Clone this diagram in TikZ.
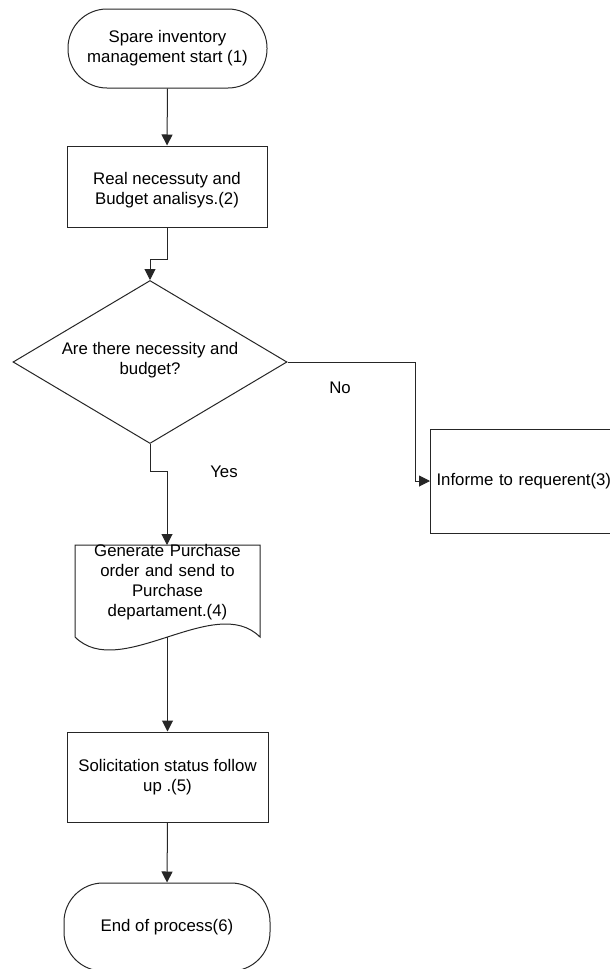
\documentclass[tikz,border=0pt]{standalone}
\usepackage{fontspec}
\setmainfont{Liberation Sans}
\usetikzlibrary{shapes.geometric,arrows.meta,calc}
\begin{document}
\begin{tikzpicture}[x=1pt,y=-1pt,
  every node/.style={font=\fontsize{16.8}{20}\selectfont, text=black},
  ln/.style={line width=1pt, draw=black!85},
  arr/.style={ln, -{Triangle[length=11pt,width=11pt]}},
  term/.style={ln, draw, rounded corners=39pt, align=center, inner sep=0pt},
  boxx/.style={ln, draw, rectangle, align=center, inner sep=0pt},
  decision/.style={ln, draw, diamond, inner sep=0pt, minimum width=274pt, minimum height=163pt},
  lbl/.style={inner sep=0pt, align=center}]
\useasboundingbox (0,0) rectangle (610,969);
\clip (0,0) rectangle (610,969);
\fill[white] (0,0) rectangle (610,969);

\node[term, minimum width=199pt, minimum height=79pt] (start) at (167.5,48.5) {Spare inventory\\management start (1)};
\node[boxx, minimum width=200pt, minimum height=81pt] (b2) at (167,186.5) {};
\node[lbl] (b2t) at (167,190.5) {Real necessuty and\\Budget analisys.(2)};
\node[decision] (dia) at (150,362) {};
\node[lbl] (diat) at (150,360) {Are there necessity and\\budget?};
\node[boxx, anchor=west, minimum height=104pt, text width=212pt, align=left, inner xsep=6pt] (b3) at (430,481) {Informe to requerent(3)};

% document shape
\coordinate (doctop) at (167,545);
\coordinate (docbot) at (167.5,637);
\draw[ln, fill=white] (75,545) -- (260,545) -- (260,637) .. controls (215,592) and (120,682) .. (75,637) -- cycle;
\node[lbl, anchor=north, text width=185pt] (doc) at (167.5,544) {Generate Purchase\\order and send to\\Purchase\\departament.(4)};

\node[boxx, minimum width=201pt, minimum height=90pt] (b5) at (167.5,777) {Solicitation status follow\\up .(5)};
\node[term, minimum width=206pt, minimum height=88pt] (end) at (167,927) {End of process(6)};

\node[lbl] (no) at (340,388) {No};
\node[lbl] (yes) at (224,472) {Yes};

\draw[arr] (start.south) -- (b2.north);
\draw[arr] (b2.south) -- ++(0,32) -| (dia.north);
\draw[arr] (dia.east) -- ++(128,0) |- (b3.west);
\draw[arr] (dia.south) -- ++(0,27) -| (doctop);
\draw[arr] (docbot) -- (b5.north);
\draw[arr] (b5.south) -- (end.north);
\end{tikzpicture}
\end{document}
